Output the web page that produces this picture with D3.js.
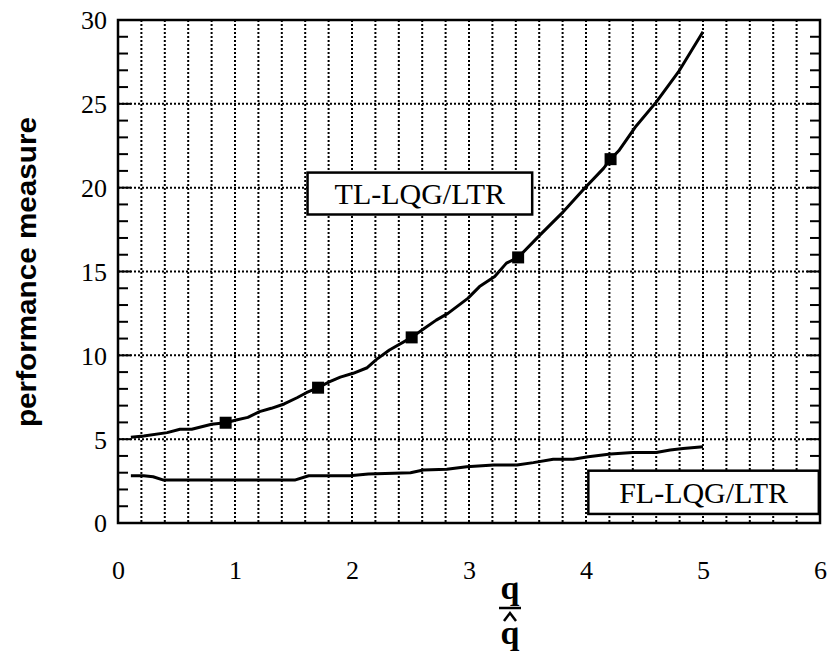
<!DOCTYPE html>
<html>
<head>
<meta charset="utf-8">
<script src="https://cdn.jsdelivr.net/npm/d3@7"></script>
<style>
  html, body { margin: 0; padding: 0; background: #fff; }
  svg { display: block; }
</style>
</head>
<body>
<svg id="chart" width="833" height="652"></svg>
<script>
// Performance measure vs. q / q-hat for the two controller designs
const tlX = [0.11, 0.22, 0.42, 0.53, 0.63, 0.80, 0.92, 1.01, 1.11, 1.21, 1.31, 1.42, 1.53, 1.61, 1.71, 1.81, 1.90, 2.01, 2.13, 2.21, 2.32, 2.51, 2.62, 2.72, 2.82, 2.99, 3.09, 3.22, 3.32, 3.42, 3.61, 3.79, 3.98, 4.15, 4.21, 4.28, 4.42, 4.60, 4.79, 5.00];
const tlY = [5.11, 5.19, 5.39, 5.59, 5.59, 5.89, 5.98, 6.14, 6.30, 6.64, 6.84, 7.10, 7.47, 7.77, 8.07, 8.43, 8.70, 8.93, 9.26, 9.76, 10.32, 11.07, 11.61, 12.10, 12.50, 13.40, 14.10, 14.70, 15.50, 15.84, 17.20, 18.45, 19.90, 21.15, 21.70, 22.20, 23.60, 25.10, 26.90, 29.30];
const tlMarkX = [0.92, 1.71, 2.51, 3.42, 4.21];
const tlMarkY = [5.98, 8.07, 11.07, 15.84, 21.70];

const flX = [0.11, 0.22, 0.30, 0.39, 1.51, 1.63, 1.98, 2.14, 2.50, 2.61, 2.81, 2.98, 3.21, 3.41, 3.55, 3.72, 3.89, 4.02, 4.21, 4.40, 4.60, 4.72, 4.83, 5.00];
const flY = [2.82, 2.82, 2.76, 2.56, 2.56, 2.82, 2.82, 2.92, 3.00, 3.16, 3.20, 3.36, 3.46, 3.46, 3.60, 3.80, 3.80, 3.95, 4.11, 4.21, 4.21, 4.35, 4.45, 4.55];

const xTicks = [0, 1, 2, 3, 4, 5, 6];
const yTicks = [0, 5, 10, 15, 20, 25, 30];

// Curve labels (box corners in data units)
const labelText = ["TL-LQG/LTR", "FL-LQG/LTR"];
const labelX0 = [1.62, 4.02];
const labelX1 = [3.54, 5.99];
const labelY0 = [18.4, 0.54];
const labelY1 = [20.9, 3.12];

const serif = "'Liberation Serif', 'Times New Roman', Times, serif";

const svg = d3.select("#chart");
const plotL = 118, plotR = 820, plotT = 20, plotB = 523;

const x = d3.scaleLinear().domain([0, 6]).range([plotL, plotR]);
const y = d3.scaleLinear().domain([0, 30]).range([plotB, plotT]);

svg.append("rect").attr("width", 833).attr("height", 652).attr("fill", "#fff");

// dotted grid: verticals every 0.2, horizontals every 5
const vGrid = d3.range(1, 30).map(i => i * 0.2);
svg.append("g").selectAll("line").data(vGrid).join("line")
  .attr("x1", d => x(d)).attr("x2", d => x(d))
  .attr("y1", plotT).attr("y2", plotB)
  .attr("stroke", "#000").attr("stroke-width", 2)
  .attr("stroke-dasharray", "2,2");
const hGrid = d3.range(1, 6).map(i => i * 5);
svg.append("g").selectAll("line").data(hGrid).join("line")
  .attr("x1", plotL).attr("x2", plotR)
  .attr("y1", d => y(d)).attr("y2", d => y(d))
  .attr("stroke", "#000").attr("stroke-width", 2)
  .attr("stroke-dasharray", "2,2");

// minor ticks on both y axes, every unit
const yMinor = d3.range(1, 30);
const tickG = svg.append("g").attr("stroke", "#000").attr("stroke-width", 2);
tickG.selectAll("line.l").data(yMinor).join("line").attr("class", "l")
  .attr("x1", plotL).attr("x2", d => plotL + (d % 5 === 0 ? 13 : 10))
  .attr("y1", d => y(d)).attr("y2", d => y(d));
tickG.selectAll("line.r").data(yMinor).join("line").attr("class", "r")
  .attr("x1", plotR).attr("x2", d => plotR - (d % 5 === 0 ? 13 : 10))
  .attr("y1", d => y(d)).attr("y2", d => y(d));

// frame
svg.append("rect")
  .attr("x", plotL).attr("y", plotT)
  .attr("width", plotR - plotL).attr("height", plotB - plotT)
  .attr("fill", "none").attr("stroke", "#000").attr("stroke-width", 2.5);

// axes tick labels
const xAxis = d3.axisBottom(x).tickValues(xTicks).tickSize(0).tickPadding(0).tickFormat(d3.format("d"));
const gx = svg.append("g").attr("transform", `translate(0,${plotB})`).call(xAxis);
gx.attr("font-family", null).attr("font-size", null);
gx.select(".domain").remove();
gx.selectAll("text")
  .attr("y", 56).attr("dy", null)
  .style("font-family", serif)
  .style("font-size", "26px").attr("fill", "#000");

const yAxis = d3.axisLeft(y).tickValues(yTicks).tickSize(0).tickPadding(0).tickFormat(d3.format("d"));
const gy = svg.append("g").attr("transform", `translate(${plotL},0)`).call(yAxis);
gy.attr("font-family", null).attr("font-size", null);
gy.select(".domain").remove();
gy.selectAll("text")
  .attr("x", -11).attr("dy", "0.34em")
  .style("font-family", serif)
  .style("font-size", "26px").attr("fill", "#000");

// curves
const line = d3.line().x(d => x(d[0])).y(d => y(d[1]));
const tl = tlX.map((v, i) => [v, tlY[i]]);
const fl = flX.map((v, i) => [v, flY[i]]);
svg.append("path").datum(tl).attr("d", line)
  .attr("fill", "none").attr("stroke", "#000").attr("stroke-width", 3)
  .attr("stroke-linejoin", "round");
svg.append("path").datum(fl).attr("d", line)
  .attr("fill", "none").attr("stroke", "#000").attr("stroke-width", 3)
  .attr("stroke-linejoin", "round");

const ms = 12;
svg.append("g").selectAll("rect").data(tlMarkX.map((v, i) => [v, tlMarkY[i]])).join("rect")
  .attr("x", d => x(d[0]) - ms / 2).attr("y", d => y(d[1]) - ms / 2)
  .attr("width", ms).attr("height", ms).attr("fill", "#000");

// boxed curve labels
labelText.forEach((t, i) => {
  const bx0 = x(labelX0[i]), bx1 = x(labelX1[i]);
  const by0 = y(labelY1[i]), by1 = y(labelY0[i]);
  svg.append("rect")
    .attr("x", bx0).attr("y", by0).attr("width", bx1 - bx0).attr("height", by1 - by0)
    .attr("fill", "#fff").attr("stroke", "#000").attr("stroke-width", 2.5);
  svg.append("text")
    .attr("x", (bx0 + bx1) / 2).attr("y", (by0 + by1) / 2 + 10.5)
    .attr("text-anchor", "middle")
    .style("font-family", serif)
    .style("font-size", "30px").attr("fill", "#000")
    .text(t);
});

// y axis title
svg.append("text")
  .attr("transform", "translate(36,272) rotate(-90)")
  .attr("text-anchor", "middle")
  .style("font-family", "'Liberation Sans', Arial, sans-serif")
  .style("font-weight", "bold").style("font-size", "27px")
  .attr("textLength", 310).attr("lengthAdjust", "spacingAndGlyphs")
  .attr("fill", "#000")
  .text("performance measure");

// x axis title: q over q-hat (hat drawn as a small chevron)
const fx = 510;
const xt = svg.append("g")
  .style("font-family", serif).style("font-weight", "bold").style("font-size", "34px")
  .attr("fill", "#000").attr("text-anchor", "middle");
xt.append("text").attr("x", fx).attr("y", 599).text("q");
svg.append("line").attr("x1", fx - 11).attr("x2", fx + 11).attr("y1", 608).attr("y2", 608)
  .attr("stroke", "#000").attr("stroke-width", 2.5);
xt.append("text").attr("x", fx).attr("y", 644).text("q");
svg.append("path")
  .attr("d", `M${fx - 6},${621} L${fx},${613} L${fx + 6},${621}`)
  .attr("fill", "none").attr("stroke", "#000").attr("stroke-width", 2.5)
  .attr("stroke-linejoin", "miter");
</script>
</body>
</html>
